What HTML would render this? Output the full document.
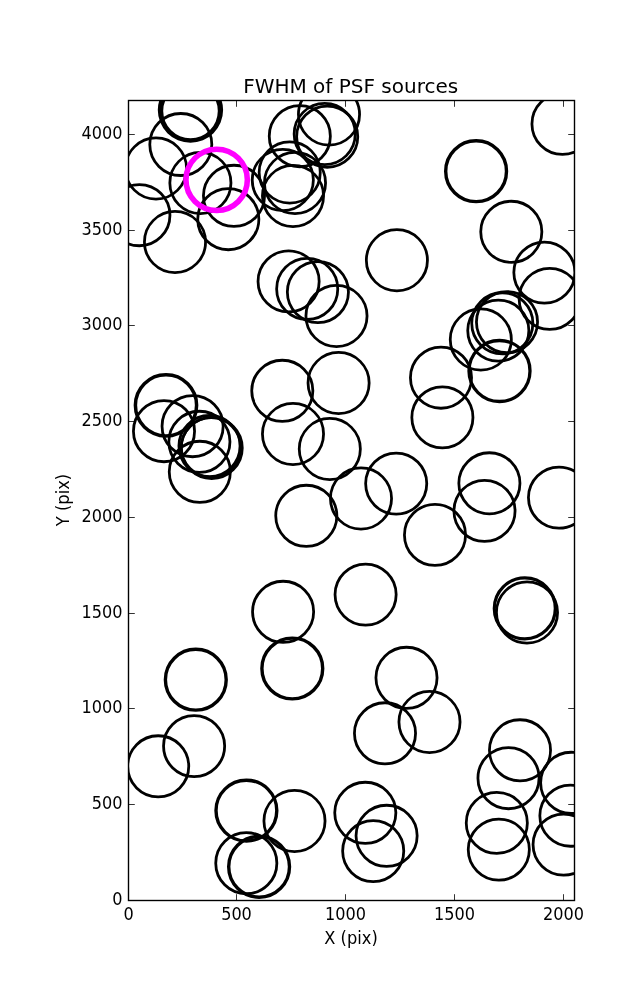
<!DOCTYPE html>
<html lang="en">
<head>
<meta charset="utf-8">
<title>FWHM of PSF sources</title>
<style>
html,body{margin:0;padding:0;background:#fff;}
body{width:637px;height:1000px;overflow:hidden;}
svg{display:block;}
text{font-family:"DejaVu Sans","Liberation Sans",sans-serif;fill:#000;}
.tk{font-size:16.67px;}
.ttl{font-size:20px;}
.c{fill:none;stroke:#000;stroke-width:2.78;}
.m{fill:none;stroke:#ff00ff;stroke-width:5.55;}
.ax{stroke:#000;stroke-width:1.39;fill:none;}
</style>
</head>
<body>
<svg width="637" height="1000" viewBox="0 0 637 1000">
<rect x="0" y="0" width="637" height="1000" fill="#ffffff"/>
<defs><clipPath id="axclip"><rect x="128" y="100" width="446" height="800"/></clipPath></defs>
<g clip-path="url(#axclip)">
<path fill="#000" fill-rule="evenodd" d="M157.8 110.05a32.65 32.65 0 1 0 65.3 0a32.65 32.65 0 1 0 -65.3 0ZM163.2 111a27.3 27.3 0 1 0 54.6 0a27.3 27.3 0 1 0 -54.6 0Z"/>
<circle class="c" cx="180.8" cy="144.5" r="31"/>
<circle class="c" cx="156" cy="168.5" r="30.56"/>
<circle class="c" cx="200.4" cy="183" r="30.56"/>
<circle class="c" cx="234" cy="195.8" r="30.56"/>
<circle class="c" cx="228.3" cy="219.2" r="30.56"/>
<circle class="c" cx="139.4" cy="215.2" r="30.56"/>
<circle class="c" cx="175" cy="242" r="30.56"/>
<circle class="c" cx="299.8" cy="136.2" r="30.56"/>
<circle class="c" cx="329" cy="114.5" r="30.56"/>
<circle class="c" cx="324.7" cy="134" r="30.56"/>
<circle class="c" cx="327.2" cy="136.7" r="30.56"/>
<circle class="c" cx="282.8" cy="180" r="30.56"/>
<circle class="c" cx="289.7" cy="172.5" r="30.56"/>
<circle class="c" cx="293" cy="196" r="30.56"/>
<circle class="c" cx="295" cy="183" r="30.56"/>
<circle class="c" cx="476.1" cy="171.2" r="30.4" style="stroke-width:3.4"/>
<circle class="c" cx="562.5" cy="123.9" r="30.56"/>
<circle class="c" cx="511.3" cy="231.8" r="30.56"/>
<circle class="c" cx="544.4" cy="272.6" r="30.56"/>
<circle class="c" cx="549.7" cy="298.9" r="30.56"/>
<circle class="c" cx="288.6" cy="281.4" r="30.56"/>
<circle class="c" cx="307.2" cy="288.9" r="30.56"/>
<circle class="c" cx="317.9" cy="292.1" r="30.56"/>
<circle class="c" cx="336.5" cy="316" r="30.56"/>
<circle class="c" cx="396.9" cy="260.25" r="30.56"/>
<circle class="c" cx="498.3" cy="330.6" r="30.56"/>
<circle class="c" cx="502.3" cy="323.3" r="30.56"/>
<circle class="c" cx="507" cy="322.1" r="30.56"/>
<circle class="c" cx="480.8" cy="339.5" r="30.56"/>
<circle class="c" cx="499.5" cy="371" r="30.5" style="stroke-width:3.3"/>
<circle class="c" cx="441" cy="377.7" r="30.56"/>
<circle class="c" cx="442.4" cy="417.4" r="30.56"/>
<circle class="c" cx="166" cy="405.3" r="30.6" style="stroke-width:3.5"/>
<circle class="c" cx="164" cy="431.2" r="30.56"/>
<circle class="c" cx="192.6" cy="426.2" r="30.56"/>
<circle class="c" cx="199.4" cy="441.8" r="30.56"/>
<circle class="c" cx="209.5" cy="446" r="30.56"/>
<circle class="c" cx="211.7" cy="448" r="30.56"/>
<circle class="c" cx="211.1" cy="447.5" r="29.8"/>
<circle class="c" cx="199.8" cy="471.8" r="30.56"/>
<circle class="c" cx="282.3" cy="390.8" r="30.56"/>
<circle class="c" cx="338.6" cy="383" r="30.56"/>
<circle class="c" cx="293" cy="434" r="30.56"/>
<circle class="c" cx="329.8" cy="449" r="30.56"/>
<circle class="c" cx="361" cy="498.5" r="30.56"/>
<circle class="c" cx="396.2" cy="483.6" r="30.56"/>
<circle class="c" cx="306.3" cy="515.8" r="30.56"/>
<circle class="c" cx="489.4" cy="483.3" r="30.56"/>
<circle class="c" cx="484.5" cy="510.9" r="30.56"/>
<circle class="c" cx="435" cy="534.9" r="30.56"/>
<circle class="c" cx="559" cy="497.6" r="30.56"/>
<circle class="c" cx="524.8" cy="608.4" r="30.5" style="stroke-width:3.2"/>
<circle class="c" cx="527" cy="612.5" r="30.56"/>
<circle class="c" cx="283.1" cy="611.8" r="30.56"/>
<circle class="c" cx="195.8" cy="679.7" r="30.4" style="stroke-width:3.4"/>
<circle class="c" cx="292.3" cy="668.5" r="30.4" style="stroke-width:3.4"/>
<circle class="c" cx="194.1" cy="746.1" r="30.56"/>
<circle class="c" cx="158.2" cy="766.3" r="30.56"/>
<circle class="c" cx="246.4" cy="810.6" r="30.4" style="stroke-width:3.4"/>
<circle class="c" cx="246.3" cy="863.2" r="30.56"/>
<circle class="c" cx="259.1" cy="866.8" r="30.4" style="stroke-width:3.4"/>
<circle class="c" cx="294.5" cy="821" r="30.56"/>
<circle class="c" cx="365.6" cy="594.6" r="30.56"/>
<circle class="c" cx="406.5" cy="677.8" r="30.56"/>
<circle class="c" cx="385" cy="733.3" r="30.56"/>
<circle class="c" cx="429.5" cy="722" r="30.56"/>
<circle class="c" cx="365.3" cy="812.8" r="30.56"/>
<circle class="c" cx="386.6" cy="835.8" r="30.56"/>
<circle class="c" cx="373.2" cy="851.1" r="30.56"/>
<circle class="c" cx="520" cy="750.3" r="30.56"/>
<circle class="c" cx="508.5" cy="778.2" r="30.56"/>
<circle class="c" cx="496.8" cy="822.9" r="30.56"/>
<circle class="c" cx="498.8" cy="849.6" r="30.56"/>
<circle class="c" cx="571.2" cy="782.8" r="30.56"/>
<circle class="c" cx="570.4" cy="815.7" r="30.56"/>
<circle class="c" cx="563.6" cy="844.6" r="30.56"/>
<circle class="m" cx="216.65" cy="179.85" r="30.7"/>
</g>
<rect class="ax" x="128.5" y="100.5" width="446" height="800"/>
<path d="M128.5 900.5V894.2M128.5 100.5V106.8M236.5 900.5V894.2M236.5 100.5V106.8M345.5 900.5V894.2M345.5 100.5V106.8M454.5 900.5V894.2M454.5 100.5V106.8M563.5 900.5V894.2M563.5 100.5V106.8M128.5 900.5H134.8M574.5 900.5H568.2M128.5 804.5H134.8M574.5 804.5H568.2M128.5 708.5H134.8M574.5 708.5H568.2M128.5 613.5H134.8M574.5 613.5H568.2M128.5 517.5H134.8M574.5 517.5H568.2M128.5 421.5H134.8M574.5 421.5H568.2M128.5 325.5H134.8M574.5 325.5H568.2M128.5 230.5H134.8M574.5 230.5H568.2M128.5 134.5H134.8M574.5 134.5H568.2" stroke="#000" stroke-width="0.8" fill="none"/>
<text class="tk" transform="translate(128.5 919.8) scale(0.966 1.075)" text-anchor="middle">0</text>
<text class="tk" transform="translate(236.5 919.8) scale(0.966 1.075)" text-anchor="middle">500</text>
<text class="tk" transform="translate(345.5 919.8) scale(0.966 1.075)" text-anchor="middle">1000</text>
<text class="tk" transform="translate(454.5 919.8) scale(0.966 1.075)" text-anchor="middle">1500</text>
<text class="tk" transform="translate(563.5 919.8) scale(0.966 1.075)" text-anchor="middle">2000</text>
<text class="tk" transform="translate(122.4 905.3) scale(0.966 1.075)" text-anchor="end">0</text>
<text class="tk" transform="translate(122.4 809.3) scale(0.966 1.075)" text-anchor="end">500</text>
<text class="tk" transform="translate(122.4 713.3) scale(0.966 1.075)" text-anchor="end">1000</text>
<text class="tk" transform="translate(122.4 618.3) scale(0.966 1.075)" text-anchor="end">1500</text>
<text class="tk" transform="translate(122.4 522.3) scale(0.966 1.075)" text-anchor="end">2000</text>
<text class="tk" transform="translate(122.4 426.3) scale(0.966 1.075)" text-anchor="end">2500</text>
<text class="tk" transform="translate(122.4 330.3) scale(0.966 1.075)" text-anchor="end">3000</text>
<text class="tk" transform="translate(122.4 235.3) scale(0.966 1.075)" text-anchor="end">3500</text>
<text class="tk" transform="translate(122.4 139.3) scale(0.966 1.075)" text-anchor="end">4000</text>
<text class="ttl" x="350.7" y="93.3" text-anchor="middle">FWHM of PSF sources</text>
<text class="tk" transform="translate(351 944) scale(0.976 1.07)" text-anchor="middle">X (pix)</text>
<text class="tk" transform="translate(68.6 500) rotate(-90) scale(0.976 1.07)" text-anchor="middle">Y (pix)</text>
</svg>
</body>
</html>
